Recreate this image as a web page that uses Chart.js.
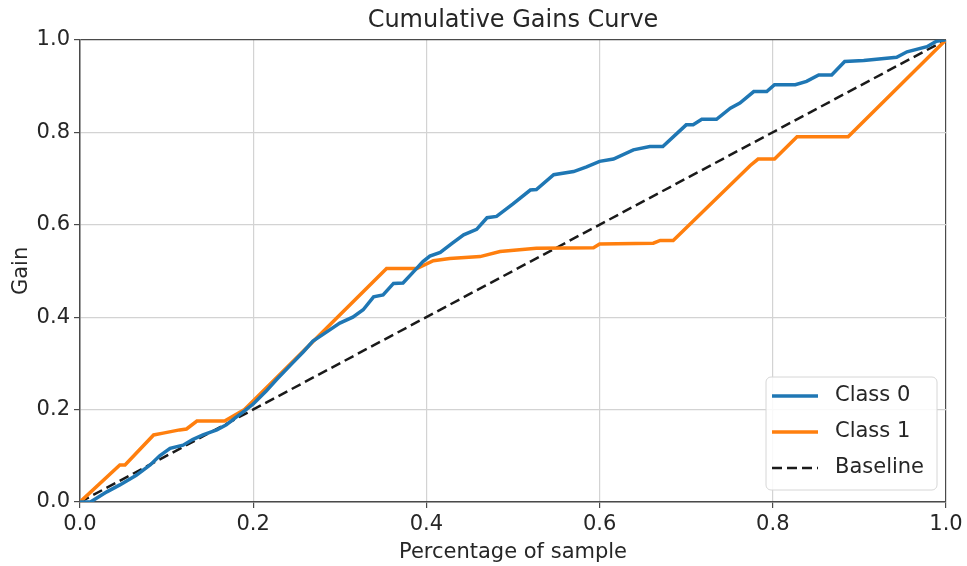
<!DOCTYPE html>
<html>
<head>
<meta charset="utf-8">
<script src="https://cdn.jsdelivr.net/npm/chart.js@4.4.1/dist/chart.umd.min.js"></script>
<style>
  html, body { margin: 0; padding: 0; background: #fff; }
  #wrap { width: 967px; height: 566px; }
</style>
</head>
<body>
<div id="wrap"><canvas id="gainsChart" width="967" height="566"></canvas></div>
<script>
// cumulative gain per class, x = share of sample, y = gain
const class0X = [0, 0.012, 0.019, 0.031, 0.046, 0.065, 0.081, 0.092, 0.104, 0.119, 0.13, 0.142, 0.158, 0.169, 0.18, 0.19,
  0.2, 0.215, 0.227, 0.245, 0.258, 0.269, 0.285, 0.3, 0.315, 0.327, 0.339, 0.35, 0.362, 0.373, 0.385, 0.396,
  0.404, 0.416, 0.43, 0.443, 0.458, 0.47, 0.481, 0.5, 0.52, 0.527, 0.547, 0.57, 0.585, 0.6, 0.616, 0.639,
  0.658, 0.673, 0.7, 0.708, 0.718, 0.735, 0.751, 0.762, 0.778, 0.793, 0.802, 0.826, 0.839, 0.853, 0.868,
  0.883, 0.905, 0.943, 0.955, 0.978, 0.989, 1];
const class0Y = [0, 0, 0.008, 0.022, 0.037, 0.058, 0.08, 0.1, 0.116, 0.123, 0.135, 0.145, 0.156, 0.167, 0.183, 0.197,
  0.212, 0.24, 0.265, 0.3, 0.325, 0.348, 0.368, 0.387, 0.4, 0.416, 0.444, 0.448, 0.473, 0.474, 0.498, 0.52,
  0.532, 0.54, 0.56, 0.578, 0.59, 0.615, 0.618, 0.645, 0.675, 0.676, 0.708, 0.715, 0.725, 0.737, 0.742, 0.762,
  0.769, 0.769, 0.816, 0.816, 0.828, 0.828, 0.852, 0.863, 0.888, 0.888, 0.903, 0.903, 0.91, 0.924, 0.924,
  0.953, 0.955, 0.962, 0.974, 0.985, 0.997, 1];

const class1X = [0, 0.046, 0.052, 0.085, 0.096, 0.115, 0.123, 0.135, 0.167, 0.19, 0.354, 0.389, 0.408, 0.427,
  0.462, 0.485, 0.527, 0.593, 0.6, 0.662, 0.67, 0.685, 0.774, 0.783, 0.802, 0.828, 0.887, 1];
const class1Y = [0, 0.08, 0.08, 0.145, 0.149, 0.156, 0.158, 0.175, 0.175, 0.2, 0.505, 0.505, 0.522, 0.527,
  0.531, 0.542, 0.549, 0.55, 0.558, 0.56, 0.566, 0.566, 0.728, 0.742, 0.742, 0.79, 0.79, 1];

const baselineX = [0, 1];
const baselineY = [0, 1];

const axisTicks = [0, 0.2, 0.4, 0.6, 0.8, 1.0];

const toPoints = (xs, ys) => xs.map((x, i) => ({ x: x, y: ys[i] }));

const FONT = "'DejaVu Sans', sans-serif";
const TEXT = '#262626';
const FRAME = '#4a4a4a';

// legend box drawn inside the lower right corner of the plot area
const innerLegend = {
  id: 'innerLegend',
  afterDraw(chart) {
    const { ctx, chartArea } = chart;
    const w = 171, h = 113;
    const x = chartArea.right - 9 - w;
    const y = chartArea.bottom - 12 - h;
    ctx.save();
    ctx.beginPath();
    ctx.roundRect(x, y, w, h, 5);
    ctx.fillStyle = 'rgba(255,255,255,0.85)';
    ctx.fill();
    ctx.strokeStyle = '#d6d6d6';
    ctx.lineWidth = 1;
    ctx.stroke();
    ctx.font = '21px ' + FONT;
    ctx.textBaseline = 'middle';
    ctx.fillStyle = TEXT;
    chart.data.datasets.forEach((ds, i) => {
      const ly = y + 19 + i * 36;
      ctx.beginPath();
      ctx.setLineDash(ds.borderDash || []);
      ctx.strokeStyle = ds.borderColor;
      ctx.lineWidth = ds.borderWidth;
      ctx.moveTo(x + 6, ly);
      ctx.lineTo(x + 52, ly);
      ctx.stroke();
      ctx.setLineDash([]);
      ctx.fillText(ds.label, x + 69, ly);
    });
    ctx.restore();
  }
};

const gridColor = c => (c.tick && c.tick.value === 1 ? FRAME : '#d3d3d3');

new Chart(document.getElementById('gainsChart'), {
  type: 'line',
  data: {
    datasets: [
      {
        label: 'Class 0',
        data: toPoints(class0X, class0Y),
        borderColor: '#1f77b4',
        borderWidth: 3.5,
        pointRadius: 0,
        tension: 0
      },
      {
        label: 'Class 1',
        data: toPoints(class1X, class1Y),
        borderColor: '#ff7f0e',
        borderWidth: 3.5,
        pointRadius: 0,
        tension: 0
      },
      {
        label: 'Baseline',
        data: toPoints(baselineX, baselineY),
        borderColor: '#1a1a1a',
        borderWidth: 2.5,
        borderDash: [10, 5],
        pointRadius: 0
      }
    ]
  },
  options: {
    responsive: false,
    animation: false,
    layout: { padding: { top: 0, right: 21, bottom: 0, left: 0 } },
    plugins: {
      legend: { display: false },
      tooltip: { enabled: false },
      title: {
        display: true,
        fullSize: false,
        text: 'Cumulative Gains Curve',
        color: TEXT,
        font: { family: FONT, size: 24, weight: 'normal' },
        padding: { top: 6, bottom: 5 }
      }
    },
    scales: {
      x: {
        type: 'linear',
        min: 0,
        max: 1,
        afterBuildTicks: s => { s.ticks = axisTicks.map(v => ({ value: v })); },
        afterFit: s => { s.height = 64; },
        ticks: {
          color: TEXT,
          padding: 4,
          font: { family: FONT, size: 21 },
          callback: v => v.toFixed(1)
        },
        grid: { color: gridColor, lineWidth: 1.2, tickLength: 6, tickColor: FRAME, tickWidth: 1.2 },
        border: { display: true, color: FRAME, width: 1.5 },
        title: {
          display: true,
          text: 'Percentage of sample',
          color: TEXT,
          font: { family: FONT, size: 21 },
          padding: { top: 0, bottom: 1 }
        }
      },
      y: {
        type: 'linear',
        min: 0,
        max: 1,
        afterBuildTicks: s => { s.ticks = axisTicks.map(v => ({ value: v })); },
        afterFit: s => { s.width = 80; },
        ticks: {
          color: TEXT,
          padding: 4,
          font: { family: FONT, size: 21 },
          callback: v => v.toFixed(1)
        },
        grid: { color: gridColor, lineWidth: 1.2, tickLength: 6, tickColor: FRAME, tickWidth: 1.2 },
        border: { display: true, color: FRAME, width: 1.5 },
        title: {
          display: true,
          text: 'Gain',
          color: TEXT,
          font: { family: FONT, size: 21 },
          padding: { top: 9, bottom: 0 }
        }
      }
    }
  },
  plugins: [innerLegend]
});
</script>
</body>
</html>
